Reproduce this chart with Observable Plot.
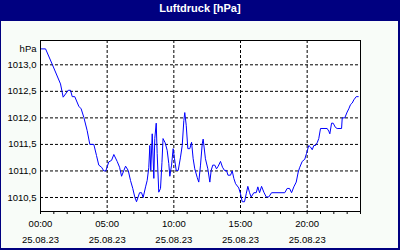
<!DOCTYPE html>
<html><head><meta charset="utf-8">
<script src="https://cdn.jsdelivr.net/npm/d3@7"></script>
<script src="https://cdn.jsdelivr.net/npm/@observablehq/plot@0.6"></script>
<style>
html,body{margin:0;padding:0;background:#f8fcf8;}
#wrap{position:relative;width:400px;height:250px;background:#f8fcf8;overflow:hidden;}
#title{position:absolute;left:0;top:0;width:400px;height:21px;background:#000080;color:#fff;font:bold 11px "Liberation Sans",sans-serif;text-align:center;line-height:17px;}
#chart{position:absolute;left:0;top:0;}
#border{position:absolute;left:0;top:0;width:400px;height:250px;box-sizing:border-box;border:1px solid #000080;border-right-width:2px;border-bottom-width:2px;pointer-events:none;}
</style>
</head><body>
<div id="wrap"><div id="title">Luftdruck [hPa]</div><div id="chart"></div><div id="border"></div></div>
<script>
const title = "Luftdruck [hPa]";
const unitLabel = "hPa";
const hours = [0.00,0.38,0.88,1.50,1.70,2.08,2.25,2.38,2.57,2.87,3.05,3.25,3.50,3.70,4.00,4.20,4.37,4.58,4.75,4.90,
5.12,5.33,5.50,5.75,5.93,6.08,6.38,6.58,6.75,6.92,7.07,7.20,7.43,7.58,7.70,7.88,8.00,8.12,8.20,8.27,
8.38,8.50,8.57,8.68,8.75,8.87,9.00,9.11,9.19,9.35,9.50,9.62,9.70,9.83,9.95,10.05,10.18,10.33,10.50,10.63,
10.75,10.82,10.93,11.05,11.20,11.33,11.45,11.57,11.75,11.87,12.00,12.13,12.20,12.37,12.55,12.70,12.80,12.92,13.07,13.20,
13.33,13.50,13.65,13.80,13.95,14.06,14.25,14.38,14.50,14.63,14.87,15.00,15.13,15.30,15.43,15.55,15.68,15.80,16.00,16.18,
16.30,16.43,16.58,16.75,16.93,17.12,17.33,18.32,18.50,18.68,18.83,19.00,19.18,19.33,19.43,19.63,19.82,19.95,20.12,20.25,
20.38,20.50,20.63,20.75,20.87,21.00,21.50,21.62,21.70,21.83,21.95,22.12,22.25,22.58,22.63,22.82,23.00,23.12,23.25,23.38,
23.50,23.68,23.83];
const pressure = [1013.30,1013.30,1013.01,1012.64,1012.39,1012.52,1012.52,1012.40,1012.40,1012.22,1012.17,1012.01,1011.76,1011.50,1011.50,1011.29,1011.11,1011.07,1011.00,1011.00,
1011.17,1011.20,1011.31,1011.18,1011.07,1010.90,1011.09,1011.01,1010.82,1010.67,1010.51,1010.42,1010.59,1010.59,1010.50,1010.70,1010.82,1011.06,1011.48,1011.01,
1011.70,1010.86,1011.61,1011.90,1011.33,1010.60,1010.67,1011.16,1011.61,1011.53,1011.39,1011.14,1010.90,1011.11,1011.42,1011.23,1011.01,1011.01,1011.26,1011.48,
1011.95,1012.10,1011.86,1011.42,1011.42,1011.54,1011.23,1011.04,1010.88,1010.79,1011.11,1011.51,1011.60,1011.23,1011.04,1010.79,1011.01,1011.11,1011.11,1011.04,
1011.09,1011.18,1011.07,1011.01,1011.01,1010.92,1010.92,1011.00,1010.86,1010.76,1010.68,1010.57,1010.42,1010.42,1010.57,1010.71,1010.59,1010.51,1010.59,1010.59,
1010.70,1010.59,1010.71,1010.60,1010.51,1010.51,1010.59,1010.59,1010.67,1010.67,1010.59,1010.70,1010.79,1010.98,1011.06,1011.18,1011.22,1011.33,1011.48,1011.45,
1011.40,1011.48,1011.48,1011.53,1011.61,1011.80,1011.80,1011.75,1011.70,1011.90,1011.90,1011.82,1011.80,1011.80,1012.00,1012.00,1012.11,1012.17,1012.25,1012.28,
1012.34,1012.40,1012.40];
const yTicks = [1010.5,1011.0,1011.5,1012.0,1012.5,1013.0];
const hourTicks = d3.range(0, 25);
const labelTicks = [0,5,10,15,20];
const timeLabels = ["00:00","05:00","10:00","15:00","20:00"];
const dateLabels = ["25.08.23","25.08.23","25.08.23","25.08.23","25.08.23"];
const gridXTicks = [5,10,15,20];

const data = hours.map((h, i) => ({h, v: pressure[i]}));
const plot = Plot.plot({
  width: 400, height: 250,
  marginLeft: 40, marginRight: 40, marginTop: 40, marginBottom: 39,
  style: {background: "transparent", fontFamily: "Liberation Sans", fontSize: "9.5px", color: "black"},
  x: {domain: [0, 24]},
  y: {domain: [1010.236, 1013.458]},
  marks: [
    Plot.frame({fill: "white"}),
    Plot.gridY(yTicks, {stroke: "black", strokeOpacity: 1, strokeDasharray: "3,2"}),
    Plot.gridX(gridXTicks, {stroke: "black", strokeOpacity: 1, strokeDasharray: "3,2"}),
    Plot.line(data, {x: "h", y: "v", stroke: "#0000ff", strokeWidth: 1}),
    Plot.frame({stroke: "black"}),
    Plot.axisY(yTicks, {tickSize: 0, tickPadding: 4, tickFormat: d => d.toFixed(1).replace(".", ","), label: null}),
    Plot.axisX(hourTicks, {tickSize: 3, tickFormat: () => "", label: null}),
    Plot.axisX(labelTicks, {tickSize: 0, tickPadding: 9, tickFormat: d => timeLabels[labelTicks.indexOf(d)], label: null}),
    Plot.axisX(labelTicks, {tickSize: 0, tickPadding: 25, tickFormat: d => dateLabels[labelTicks.indexOf(d)], label: null}),
    Plot.text([unitLabel], {text: d => d, frameAnchor: "top-left", textAnchor: "end", dx: -4, dy: 5})
  ]
});
document.getElementById("chart").appendChild(plot);
</script>
</body></html>
